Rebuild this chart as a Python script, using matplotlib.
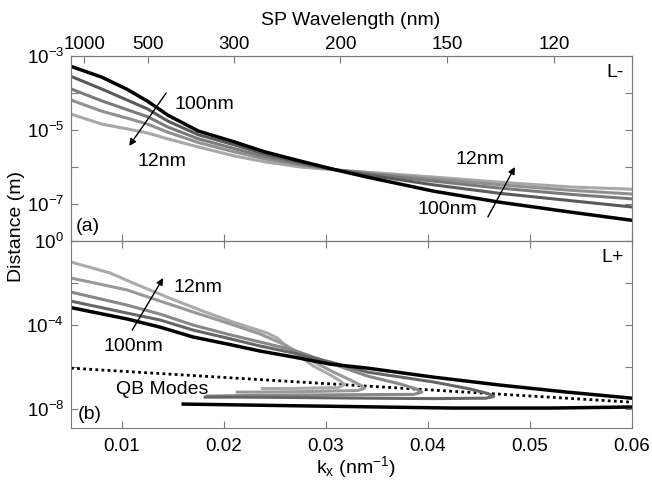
import numpy as np
import matplotlib.pyplot as plt
from matplotlib.ticker import NullLocator

plt.rcParams['font.family'] = ['Liberation Sans', 'DejaVu Sans']
plt.rcParams['mathtext.fontset'] = 'custom'
plt.rcParams['mathtext.rm'] = 'Liberation Sans'
plt.rcParams['mathtext.it'] = 'Liberation Sans:italic'

# ---- panel (a): L- mode, log10 of distance (m) ----
kx_a = [0.005, 0.008, 0.0105, 0.0125, 0.0145, 0.0175, 0.021, 0.024, 0.0275,
        0.031, 0.034, 0.0405, 0.047, 0.054, 0.06]
a_100 = [-3.28, -3.57, -3.90, -4.22, -4.60, -5.03, -5.32, -5.59, -5.84,
         -6.08, -6.27, -6.65, -6.95, -7.22, -7.44]
a_50 = [-3.55, -3.89, -4.19, -4.43, -4.76, -5.13, -5.40, -5.65, -5.88,
        -6.08, -6.21, -6.48, -6.71, -6.91, -7.08]
a_25 = [-3.89, -4.21, -4.45, -4.64, -4.92, -5.24, -5.50, -5.72, -5.92,
        -6.08, -6.18, -6.38, -6.57, -6.74, -6.86]
a_18 = [-4.19, -4.49, -4.68, -4.84, -5.06, -5.34, -5.59, -5.78, -5.95,
        -6.08, -6.16, -6.32, -6.48, -6.63, -6.73]
a_12 = [-4.57, -4.84, -4.97, -5.08, -5.24, -5.46, -5.70, -5.86, -6.00,
        -6.08, -6.14, -6.27, -6.41, -6.54, -6.60]

# ---- panel (b): L+ mode ----
kx_b100 = [0.005, 0.0105, 0.01374, 0.01698, 0.02032, 0.02357, 0.02681, 0.03044,
           0.03408, 0.04056, 0.04714, 0.05362, 0.06]
b_100 = [-3.17, -3.71, -4.10, -4.57, -4.90, -5.24, -5.52, -5.86,
         -6.05, -6.48, -6.86, -7.19, -7.48]
kx_qb100 = [0.016, 0.0255, 0.0354, 0.0425, 0.052, 0.06]
qb_100 = [-7.76, -7.83, -7.90, -7.95, -7.95, -7.90]

kx_b50 = [0.005, 0.0105, 0.01374, 0.01698, 0.02032, 0.02357, 0.02681, 0.03044,
          0.03408, 0.04056, 0.04419, 0.04587, 0.04645, 0.04567, 0.04056,
          0.03408, 0.0275, 0.0216, 0.01816]
b_50 = [-2.86, -3.43, -3.76, -4.24, -4.62, -5.00, -5.33, -5.76,
        -6.24, -6.71, -7.05, -7.26, -7.40, -7.48, -7.50,
        -7.48, -7.45, -7.43, -7.43]

kx_b25 = [0.005, 0.0105, 0.01374, 0.01698, 0.02032, 0.02357, 0.02681, 0.03044,
          0.03408, 0.03732, 0.03889, 0.03938, 0.0386, 0.03408, 0.0275,
          0.0216, 0.01836]
b_25 = [-2.43, -3.05, -3.48, -4.00, -4.43, -4.81, -5.19, -5.81,
        -6.43, -6.81, -7.05, -7.19, -7.30, -7.31, -7.33,
        -7.36, -7.38]

kx_b18 = [0.005, 0.0105, 0.01374, 0.01698, 0.02032, 0.02357, 0.02602, 0.02848,
          0.03074, 0.03241, 0.03339, 0.03378, 0.03309, 0.03044, 0.0275,
          0.02357, 0.02131]
b_18 = [-1.76, -2.33, -2.86, -3.38, -3.90, -4.43, -4.95, -5.67,
        -6.24, -6.62, -6.86, -7.00, -7.12, -7.14, -7.17,
        -7.19, -7.19]

kx_b12 = [0.005, 0.00883, 0.01109, 0.01443, 0.01767, 0.02091, 0.02425, 0.02524,
          0.02651, 0.02877, 0.03044, 0.03142, 0.03182, 0.03123, 0.02877,
          0.02651, 0.02376]
b_12 = [-1.00, -1.52, -2.00, -2.67, -3.29, -3.86, -4.38, -4.62,
        -5.19, -5.95, -6.38, -6.67, -6.83, -6.98, -7.00,
        -7.02, -7.02]

kx_dot = [0.005, 0.06]
dot_line = [-6.05, -7.67]

wavelengths = [1000, 500, 300, 200, 150, 120]
kx_ticks = [0.01, 0.02, 0.03, 0.04, 0.05, 0.06]

gray_a = ['#000000', '#5a5a5a', '#7a7a7a', '#909090', '#a8a8a8']
gray_b = ['#000000', '#666666', '#888888', '#999999', '#aaaaaa']
spine_c = '#7a7a7a'

fig = plt.figure(figsize=(6.52, 4.87), dpi=100)
ax1 = fig.add_axes([0.1089, 0.5051, 0.8604, 0.3799])
ax2 = fig.add_axes([0.1089, 0.1211, 0.8604, 0.3840])

p = lambda v: 10 ** np.array(v)

for vals, c in zip([a_12, a_18, a_25, a_50, a_100], gray_a[::-1]):
    ax1.plot(kx_a, p(vals), color=c, lw=2.2 if c != '#000000' else 2.5)

ax2.plot(kx_dot, p(dot_line), color='black', lw=2, ls=(0, (1, 1.2)))
for kx, vals, c in zip([kx_b12, kx_b18, kx_b25, kx_b50],
                       [b_12, b_18, b_25, b_50], gray_b[:0:-1]):
    ax2.plot(kx, p(vals), color=c, lw=2.2)
ax2.plot(kx_b100, p(b_100), color='black', lw=2.5)
ax2.plot(kx_qb100, p(qb_100), color='black', lw=2.5)

for ax in (ax1, ax2):
    ax.set_xlim(0.005, 0.06)
    ax.set_yscale('log')
    ax.yaxis.set_minor_locator(NullLocator())
    ax.set_xticks(kx_ticks)
    ax.tick_params(direction='in', length=5, color=spine_c, labelsize=13.5,
                   right=True, pad=5)
    for s in ax.spines.values():
        s.set_color(spine_c)

ax1.set_ylim(1e-8, 1e-3)
ax1.set_yticks([1e-8, 1e-7, 1e-6, 1e-5, 1e-4, 1e-3])
ax1.set_yticklabels(['', r'10$^{\mathregular{-7}}$', '', r'10$^{\mathregular{-5}}$', '',
                     r'10$^{\mathregular{-3}}$'])
ax1.tick_params(labelbottom=False, top=False)

ax2.set_ylim(10 ** -8.9, 1)
ax2.set_yticks([1e-8, 1e-6, 1e-4, 1e-2, 1])
ax2.set_yticklabels([r'10$^{\mathregular{-8}}$', '', r'10$^{\mathregular{-4}}$', '',
                     r'10$^{\mathregular{0}}$'])
ax2.set_xticklabels([str(t) for t in kx_ticks])
ax2.tick_params(top=True, axis='x', pad=7)

axt = ax1.twiny()
axt.set_xlim(ax1.get_xlim())
axt.set_xticks(2 * np.pi / np.array(wavelengths))
axt.set_xticklabels([str(w) for w in wavelengths])
axt.tick_params(direction='in', length=5, color=spine_c, labelsize=13.5, pad=2)
for s in axt.spines.values():
    s.set_color(spine_c)

fig.text(0.538, 0.957, 'SP Wavelength (nm)', fontsize=14, ha='center', va='center')
fig.text(0.026, 0.535, 'Distance (m)', fontsize=14, rotation=90, ha='center', va='center')
fig.text(0.546, 0.040, r'k$_\mathregular{x}$ (nm$^{\mathregular{-1}}$)', fontsize=14,
         ha='center', va='center')

arr = dict(arrowstyle='-|>', color='black', lw=1, mutation_scale=10, shrinkA=0, shrinkB=0)
tfs = 14
ax1.text(0.01512, 10 ** -4.30, '100nm', fontsize=tfs, va='center')
ax1.text(0.01148, 10 ** -5.86, '12nm', fontsize=tfs, va='center')
ax1.annotate('', xy=(0.0107, 10 ** -5.43), xytext=(0.01433, 10 ** -4.0), arrowprops=arr)
ax1.text(0.04272, 10 ** -5.81, '12nm', fontsize=tfs, va='center')
ax1.text(0.0390, 10 ** -7.16, '100nm', fontsize=tfs, va='center')
ax1.annotate('', xy=(0.04852, 10 ** -6.0), xytext=(0.04587, 10 ** -7.35), arrowprops=arr)
ax1.text(0.986, 0.91, 'L-', fontsize=tfs, ha='right', va='center', transform=ax1.transAxes)
ax1.text(0.008, 0.08, '(a)', fontsize=tfs, ha='left', va='center', transform=ax1.transAxes)

ax2.text(0.01502, 10 ** -2.19, '12nm', fontsize=tfs, va='center')
ax2.text(0.00814, 10 ** -5.0, '100nm', fontsize=tfs, va='center')
ax2.annotate('', xy=(0.01404, 10 ** -1.76), xytext=(0.0110, 10 ** -4.24), arrowprops=arr)
ax2.text(0.00942, 10 ** -7.07, 'QB Modes', fontsize=tfs, va='center')
ax2.text(0.986, 0.91, 'L+', fontsize=tfs, ha='right', va='center', transform=ax2.transAxes)
ax2.text(0.012, 0.07, '(b)', fontsize=tfs, ha='left', va='center', transform=ax2.transAxes)

fig.savefig('out.png', dpi=100)
